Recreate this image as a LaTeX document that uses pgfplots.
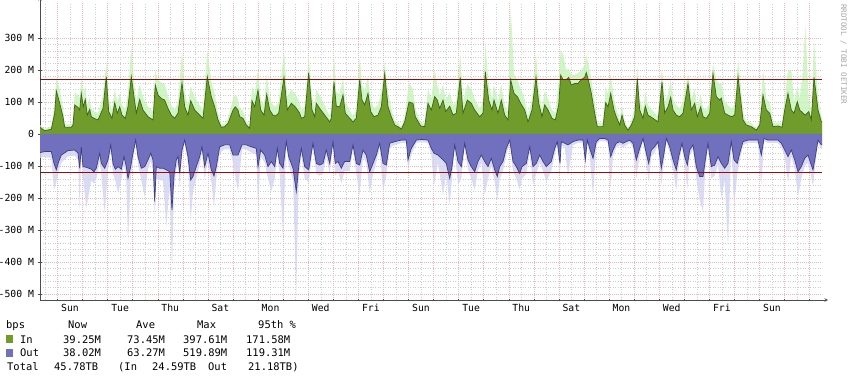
\documentclass[border=0pt]{standalone}
\usepackage{fontspec}
\setmainfont{DejaVu Sans Mono}
\usepackage{pgfplots}
\pgfplotsset{compat=1.18}
\usepackage{pgfplotstable}
\definecolor{inavg}{RGB}{112,156,44}
\definecolor{inline}{RGB}{62,100,22}
\definecolor{inmax}{RGB}{196,242,184}
\definecolor{outavg}{RGB}{112,112,190}
\definecolor{outline}{RGB}{62,62,128}
\definecolor{outmax}{RGB}{210,210,240}
\definecolor{pct}{RGB}{150,10,10}
\definecolor{majgrid}{RGB}{242,180,180}
\definecolor{mingrid}{RGB}{205,205,205}

\pgfplotstableread{
x in inmax
0 21 28
4.7 10 16
11.3 15 24
14.7 65 95
16.3 135 175
19.7 96 140
23 54 80
24.7 21 30
31.3 21 30
33 28 40
34.7 91 130
38 83 120
39.7 75 110
41.3 127 175
43.3 85 125
45.3 108 150
47.3 59 90
49.7 77 115
51.3 54 80
54.7 48 70
58 44 65
63 80 120
66.3 179 225
68.7 70 110
72 49 75
74.7 98 140
77.3 65 100
79.7 85 125
82 59 90
85.3 49 75
88 85 130
91.3 179 272
94 117 165
96.3 65 100
99.7 108 155
103 75 115
108 54 85
113 44 70
115.3 153 200
118 122 170
121.3 111 160
124.7 106 155
128 80 120
131.3 59 90
134.7 49 75
138 65 100
142 160 262
144.7 85 130
148 59 90
150.7 104 150
154.7 75 115
159.7 59 90
163 49 75
167.3 179 262
171.3 117 165
174.7 85 125
178 44 65
181.3 21 30
184.7 23 32
188 33 48
193 75 110
195.3 85 125
198 75 110
199.7 54 80
203 49 72
206.3 28 40
209.7 18 28
212 104 150
214.7 85 125
218 137 200
220.7 75 110
224 59 90
226.7 124 185
229.7 75 110
233 59 90
235.3 56 85
238.7 65 100
244 177 262
247.3 75 115
251.3 96 140
255.3 85 125
259.7 65 100
261.3 49 75
264.7 54 85
268.7 192 242
272 75 115
274.7 54 85
276.3 96 140
279.7 80 120
284.7 59 90
289.7 38 55
291.3 49 75
294 163 247
296.3 87 130
299.7 85 125
303 122 175
305.3 65 100
309.7 49 75
313 38 55
316.3 49 75
319.7 170 240
322 106 155
324.7 91 135
328 127 180
330.7 70 105
334 54 80
338 59 90
341.3 85 130
344.7 189 226
348 85 130
351.3 54 80
354.7 28 40
358 23 35
361.3 15 22
364.7 38 55
369 100 160
373 96 140
375.3 54 80
380.7 25 36
384.7 23 34
388 96 140
391.3 75 110
394.7 117 200
397.3 106 155
399.7 80 120
403 106 155
405.7 70 105
409.7 87 130
413 59 90
416.3 65 100
420.3 177 252
423 65 100
427.3 106 155
431.3 96 140
434.7 75 110
439.7 54 80
443 65 100
445.3 195 283
448.7 106 155
452 75 110
454 106 155
458 65 100
461.3 106 155
464.7 59 90
468 44 70
470.7 169 398
474 127 185
477.3 117 170
480.7 96 140
484.7 75 110
488 38 55
492 75 110
496 177 250
498.7 96 140
502 54 80
504.7 91 135
508 75 110
512 49 75
515.3 44 65
518.7 91 170
520.7 184 262
523 170 250
526.3 170 200
528.7 177 205
531.3 153 185
534.7 158 185
538 158 190
541.3 170 200
544.7 177 215
546.3 192 247
548.7 164 215
551.3 127 170
554.7 65 100
557.3 23 34
563 23 34
565.7 98 145
568 85 125
570.7 127 185
574 75 110
576.3 54 80
579.7 28 40
582 59 90
584.7 28 40
588 12 18
591.3 28 40
594.7 54 85
597.3 174 210
599.7 75 110
603 49 75
605.3 87 130
608 59 90
613 49 72
618 38 55
622 163 210
624.7 65 100
628 85 125
630.7 115 170
633 75 110
636.3 59 90
639.7 54 80
643 65 100
648 158 190
651.3 75 110
654.7 96 140
657.3 54 80
660.7 85 125
663 54 80
666.3 49 75
669.7 65 100
673 189 220
676.3 117 170
679.7 106 155
681.3 112 160
684.7 65 100
688 59 90
691.3 54 80
694.7 59 90
698 179 231
700.7 106 155
703 44 65
706.3 28 40
711.3 23 34
716.3 12 18
719.7 28 40
723 122 200
726.3 75 110
729.7 65 100
733 23 34
738 25 36
742 21 32
744.7 75 110
748 127 200
751.3 75 200
754 65 100
757.3 101 150
759.7 75 110
763 65 200
765.3 59 340
768.7 70 110
771.3 44 70
774 177 294
778 75 115
781.3 38 55
782 38 55
}\intab

\pgfplotstableread{
x out outmax
0 -58 -75
4.7 -55 -72
11.3 -55 -75
14 -92 -175
16.3 -112 -150
18.7 -86 -115
21.3 -66 -90
28 -52 -70
34.7 -50 -68
38 -60 -80
39.7 -107 -238
41.3 -40 -60
43 -102 -135
46.3 -104 -232
51.3 -110 -145
54 -118 -155
56.3 -107 -140
59.7 -60 -85
61.3 -92 -125
64.7 -107 -248
68 -81 -110
70.7 -34 -50
73 -92 -125
75.3 -110 -145
78 -102 -185
81.3 -110 -145
84 -71 -95
86.3 -102 -140
88 -139 -342
90.7 -102 -140
93 -60 -85
95.7 -19 -28
98 -71 -95
101.3 -107 -145
104.7 -102 -196
108 -81 -110
110.7 -60 -85
113 -81 -110
114.7 -211 -258
116.3 -102 -140
119.7 -107 -145
123 -107 -145
126.3 -112 -290
129.7 -118 -160
132 -238 -430
134 -128 -170
136.3 -81 -110
138 -71 -95
139.7 -123 -165
142 -50 -70
144.7 -19 -28
148 -71 -95
150.7 -144 -269
153 -133 -180
156.3 -102 -140
159.7 -71 -95
162 -40 -58
164.7 -102 -140
168 -60 -85
171.3 -112 -150
174 -131 -227
176.3 -102 -140
179.7 -40 -58
184.7 -34 -48
189.7 -34 -48
193 -66 -90
198 -66 -180
202 -34 -48
206.3 -34 -48
211.3 -40 -58
216.3 -45 -65
218 -102 -227
220.7 -50 -70
224.7 -66 -90
228 -102 -140
231.3 -86 -180
234.7 -102 -140
237.3 -45 -65
239.7 -92 -125
243 -107 -320
246.3 -24 -35
248.7 -71 -95
253 -107 -145
256.3 -180 -500
258.7 -102 -140
261.3 -45 -65
264.7 -102 -140
268.7 -112 -150
271.3 -60 -85
273 -29 -42
276.3 -92 -125
279.7 -97 -130
283 -92 -125
286.3 -50 -70
289.7 -92 -125
293 -24 -35
295.3 -92 -130
298 -86 -115
301.3 -107 -154
304.7 -86 -115
309.7 -86 -115
313 -34 -48
316.3 -92 -125
319.7 -97 -190
323 -50 -70
326.3 -66 -90
329.7 -118 -185
333 -92 -125
336.3 -66 -90
339.7 -29 -42
343 -92 -180
346.3 -97 -130
349.7 -29 -42
354.7 -24 -35
361.3 -19 -28
366.3 -19 -28
368 -81 -110
371.3 -45 -65
376.3 -19 -28
381.3 -17 -25
388 -19 -28
391.3 -45 -65
394 -60 -160
398 -66 -90
403 -81 -190
406.3 -92 -125
409.7 -139 -222
412 -102 -140
414.7 -34 -48
418 -86 -160
421.3 -102 -140
424.7 -29 -42
428 -81 -110
431.3 -102 -140
434.7 -118 -175
438 -86 -115
441.3 -66 -90
444.7 -86 -190
448 -102 -140
451.3 -76 -100
454.7 -112 -150
457.3 -133 -206
459.7 -102 -140
463 -86 -115
466.3 -45 -65
469.7 -19 -28
473 -86 -115
476.3 -102 -140
479.7 -123 -175
482 -102 -140
486.3 -92 -125
489.7 -40 -58
493 -102 -160
496.3 -92 -125
499.7 -66 -90
503 -86 -115
506.3 -102 -150
511.3 -86 -115
514.7 -45 -65
517.3 -24 -35
520 -92 -125
521.3 -24 -35
524.7 -29 -42
528 -34 -130
533 -24 -35
538 -19 -28
543 -19 -28
545.3 -81 -110
547.3 -19 -28
549.7 -45 -65
553 -76 -196
556.3 -24 -35
559.7 -14 -22
564.7 -14 -22
568 -19 -28
570.7 -71 -170
573 -50 -70
576.3 -29 -42
579.7 -24 -35
583 -29 -42
586.3 -24 -35
589.7 -19 -28
593 -29 -42
596.3 -81 -140
599.7 -45 -65
603 -14 -22
606.3 -60 -85
608.7 -92 -150
611.3 -50 -70
614.7 -40 -58
618 -24 -35
621.3 -107 -160
624 -60 -85
626.3 -14 -22
629.7 -40 -58
633 -81 -110
636.3 -112 -175
638.7 -71 -95
642 -29 -42
644.7 -71 -95
647.3 -97 -175
649.7 -50 -70
653 -34 -48
656.3 -102 -140
659.7 -133 -206
663 -133 -243
665.3 -81 -110
668 -29 -42
671.3 -102 -140
674.7 -97 -130
678 -71 -95
681.3 -92 -200
684.7 -107 -145
688 -92 -352
691.3 -24 -35
694 -81 -227
697.3 -92 -125
699.7 -60 -85
703 -24 -35
708 -19 -28
714.7 -19 -28
718 -19 -28
721.3 -66 -160
724 -14 -22
728 -19 -28
733 -19 -28
738 -19 -28
741.3 -29 -42
744.7 -50 -70
748 -71 -150
751.3 -50 -70
754.7 -81 -110
758 -118 -196
761.3 -102 -140
764.7 -76 -100
768 -66 -90
770.7 -92 -125
773 -112 -165
775.3 -71 -95
778 -19 -28
781.3 -34 -48
782 -34 -48
}\outtab

\begin{document}
\begin{tikzpicture}
\path[use as bounding box] (0,0) rectangle (854bp,377bp);
\begin{axis}[
  at={(40bp,77bp)}, anchor=south west,
  scale only axis, width=782bp, height=297bp,
  xmin=0, xmax=782, ymin=-518.75, ymax=409.4,
  axis lines=left,
  axis line style={draw=black!70, line width=0.6bp, -stealth, shorten >=-6bp},
  ytick={-500,-400,-300,-200,-100,0,100,200,300},
  yticklabels={-500 M,-400 M,-300 M,-200 M,-100 M,0,100 M,200 M,300 M},
  minor y tick num=4,
  ymajorgrids, yminorgrids,
  xtick={17.5,42.57,...,770},
  xticklabels={},
  xmajorgrids,
  minor xtick={4.97,30.04,...,782},
  xminorgrids,
  extra x ticks={30,80.14,130.28,180.42,230.56,280.7,330.84,380.98,431.12,481.26,531.4,581.54,631.68,681.82,731.96},
  extra x tick labels={Sun,Tue,Thu,Sat,Mon,Wed,Fri,Sun,Tue,Thu,Sat,Mon,Wed,Fri,Sun},
  extra x tick style={xmajorgrids=false, major tick length=0pt},
  major grid style={draw=majgrid, line width=0.5bp, dash pattern=on 1bp off 1bp},
  minor grid style={draw=mingrid, line width=0.4bp, dash pattern=on 1bp off 1.5bp},
  major tick length=3bp, minor tick length=0pt,
  tick align=center,
  tick style={black!70, line width=0.5bp},
  ticklabel style={font=\fontsize{9.8}{10}\selectfont, text=black},
  yticklabel style={xshift=-1bp},
  xticklabel style={yshift=-1bp},
  clip=true,
]
\addplot[fill=inmax, fill opacity=0.8, draw=none] table[x=x,y=inmax] {\intab} \closedcycle;
\addplot[fill=outmax, fill opacity=0.8, draw=none] table[x=x,y=outmax] {\outtab} \closedcycle;
\addplot[fill=inavg, draw=none] table[x=x,y=in] {\intab} \closedcycle;
\addplot[fill=outavg, draw=none] table[x=x,y=out] {\outtab} \closedcycle;
\addplot[draw=inline, line width=0.7bp] table[x=x,y=in] {\intab};
\addplot[draw=outline, line width=0.7bp] table[x=x,y=out] {\outtab};
\addplot[draw=pct, line width=1.1bp] coordinates {(0,171.58) (782,171.58)};
\addplot[draw=pct, line width=1.1bp] coordinates {(0,-119.31) (782,-119.31)};
\end{axis}
\node[rotate=-90, anchor=west, text=black!35, font=\fontsize{7.6}{8}\selectfont, inner sep=0pt] at (843.5bp,373bp) {RRDTOOL / TOBI OETIKER};
\begin{scope}[every node/.style={anchor=base west, inner sep=0pt, font=\fontsize{10.5}{12}\selectfont}]
\node at (6bp,48.5bp) {bps};
\node at (68bp,48.5bp) {Now};
\node at (136bp,48.5bp) {Ave};
\node at (197bp,48.5bp) {Max};
\node at (258bp,48.5bp) {95th \%};
\node at (6bp,34bp) {\textcolor{inavg}{\rule{7bp}{8bp}}};
\node at (20bp,34bp) {In};
\node at (63bp,34bp) {39.25M};
\node at (127bp,34bp) {73.45M};
\node at (183bp,34bp) {397.61M};
\node at (246bp,34bp) {171.58M};
\node at (6bp,20.5bp) {\textcolor{outavg}{\rule{7bp}{8bp}}};
\node at (20bp,20.5bp) {Out};
\node at (63bp,20.5bp) {38.02M};
\node at (127bp,20.5bp) {63.27M};
\node at (183bp,20.5bp) {519.89M};
\node at (246bp,20.5bp) {119.31M};
\node at (7bp,6.5bp) {Total};
\node at (54bp,6.5bp) {45.78TB};
\node at (118bp,6.5bp) {(In};
\node at (152bp,6.5bp) {24.59TB};
\node at (208bp,6.5bp) {Out};
\node at (248bp,6.5bp) {21.18TB)};
\end{scope}
\end{tikzpicture}
\end{document}
